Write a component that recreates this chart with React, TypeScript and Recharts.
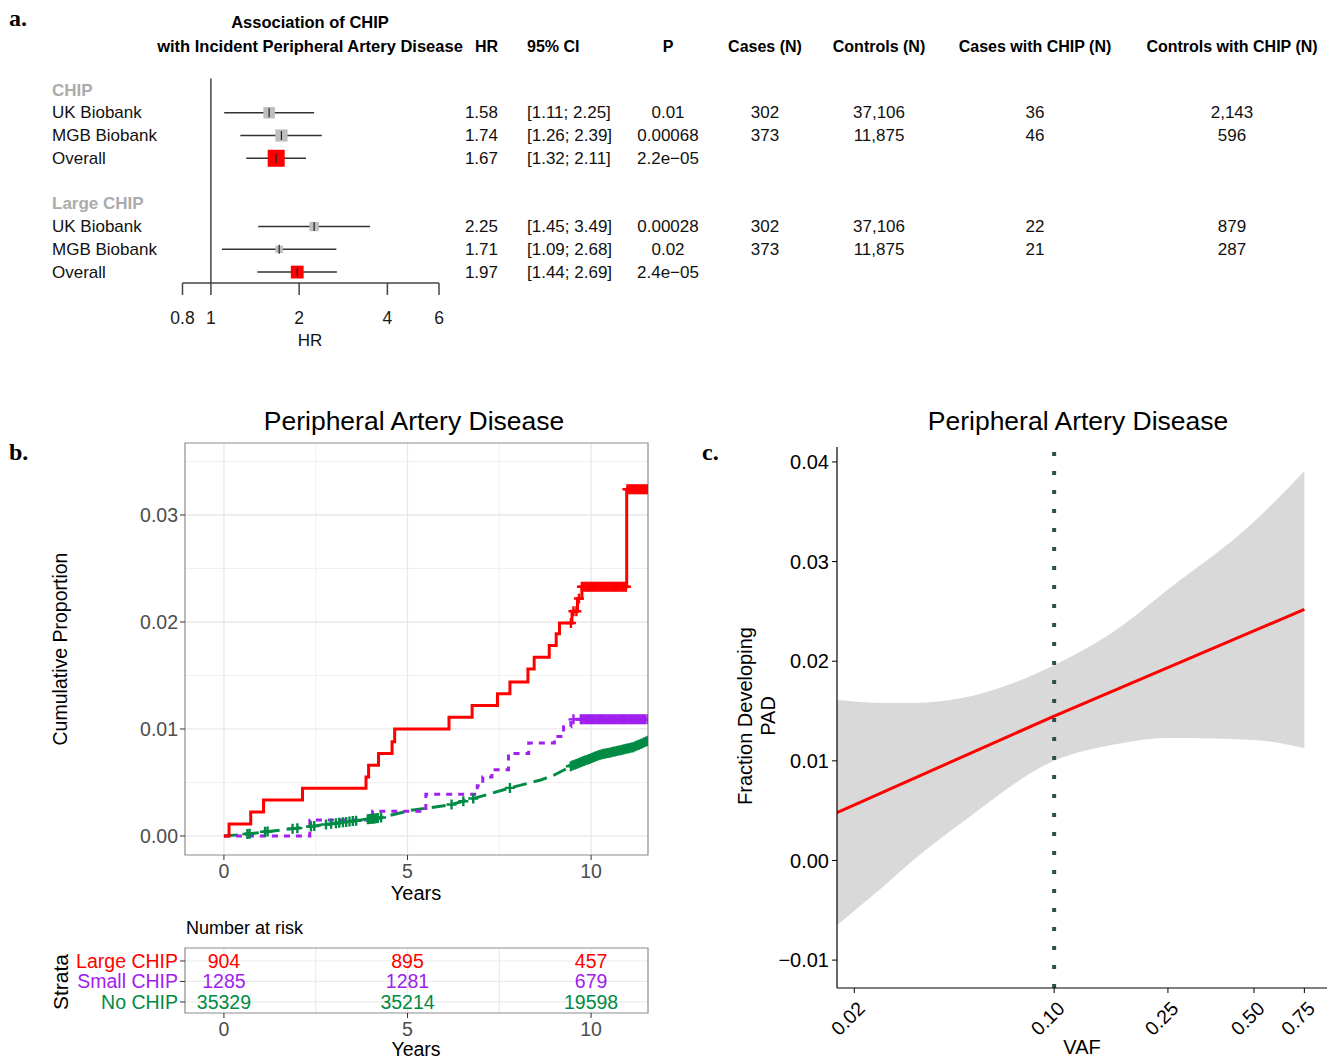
import React from 'react';
import {
  ComposedChart, Line, Area, Scatter, ErrorBar, XAxis, YAxis,
  CartesianGrid, ReferenceLine, ReferenceArea,
} from 'recharts';

const FONT = '"Liberation Sans", Arial, Helvetica, sans-serif';
const SERIF = '"Liberation Serif", "Times New Roman", serif';

const RED = '#FF0000';
const PURPLE = '#A020F0';
const GREEN = '#008B45';
const BOX_GREY = '#BEBEBE';
const HEAD_GREY = '#ABABAB';

// ---------- a. forest plot ----------
const groupNames = ['CHIP', 'Large CHIP'];
const groupRows = [1, 6];
const studyNames = ['UK Biobank', 'MGB Biobank', 'Overall', 'UK Biobank', 'MGB Biobank', 'Overall'];
const studyRows = [2, 3, 4, 7, 8, 9];
const hr = [1.58, 1.74, 1.67, 2.25, 1.71, 1.97];
const ciLow = [1.11, 1.26, 1.32, 1.45, 1.09, 1.44];
const ciHigh = [2.25, 2.39, 2.11, 3.49, 2.68, 2.69];
const pValues = ['0.01', '0.00068', '2.2e\u221205', '0.00028', '0.02', '2.4e\u221205'];
const casesN = ['302', '373', '', '302', '373', ''];
const controlsN = ['37,106', '11,875', '', '37,106', '11,875', ''];
const casesChipN = ['36', '46', '', '22', '21', ''];
const controlsChipN = ['2,143', '596', '', '879', '287', ''];
const weights = [46, 52, 100, 30, 19, 57];
const hrTicks = [0.8, 1, 2, 4, 6];

// ---------- b. cumulative incidence ----------
const largeT = [0, 0.14, 0.73, 1.08, 2.14, 3.87, 3.94, 4.21, 4.58, 4.65, 6.13, 6.76, 7.45, 7.79, 8.28, 8.45, 8.86, 9.05, 9.14, 9.48, 9.63, 9.75, 10.97, 11.55];
const largeV = [0, 0.00112, 0.00224, 0.00336, 0.00445, 0.0055, 0.0066, 0.0077, 0.0088, 0.0100, 0.0111, 0.0122, 0.0133, 0.0144, 0.0156, 0.0167, 0.0178, 0.0189, 0.0199, 0.0210, 0.0222, 0.0233, 0.0324, 0.0324];
const smallT = [0, 2.34, 4.05, 5.5, 6.9, 7.05, 7.3, 7.75, 8.3, 9.0, 9.25, 9.45, 11.55];
const smallV = [0, 0.0015, 0.0023, 0.0039, 0.0047, 0.0055, 0.0062, 0.0077, 0.0087, 0.0093, 0.0102, 0.0109, 0.0109];
const noT = [0, 0.6, 1.15, 2.05, 3.3, 4.25, 5.1, 6.15, 7.0, 7.8, 8.6, 9.0, 9.5, 10.25, 10.65, 11.15, 11.55];
const noV = [0, 0.00016, 0.0004, 0.00075, 0.0013, 0.0017, 0.0024, 0.0029, 0.0037, 0.0045, 0.0052, 0.0057, 0.0066, 0.0076, 0.0079, 0.0083, 0.0089];

// censoring times
const largeCens = [9.45, 9.52, 9.6, 9.67, 9.75, 9.8, 9.85, 9.9, 9.95, 10.0, 10.05, 10.1, 10.15, 10.2, 10.25, 10.3, 10.35, 10.4, 10.45, 10.5, 10.55, 10.6, 10.65, 10.7, 10.75, 10.8, 10.85, 10.9, 10.95, 10.99, 11.04, 11.09, 11.14, 11.19, 11.24, 11.29, 11.34, 11.39, 11.44, 11.49, 11.54];
const smallCens = [9.52, 9.72, 9.77, 9.82, 9.87, 9.92, 9.97, 10.02, 10.07, 10.12, 10.17, 10.22, 10.27, 10.32, 10.37, 10.42, 10.47, 10.52, 10.57, 10.62, 10.67, 10.72, 10.77, 10.82, 10.87, 10.92, 10.97, 11.02, 11.07, 11.12, 11.17, 11.22, 11.27, 11.32, 11.37, 11.42, 11.47, 11.54];
const noCens = [0.64, 0.7, 1.12, 1.19, 1.87, 2.0, 2.37, 2.46, 2.78, 2.92, 3.05, 3.14, 3.24, 3.33, 3.42, 3.51, 3.6, 3.92, 3.97, 4.01, 4.06, 4.1, 4.15, 4.19, 4.28, 6.2, 6.52, 6.79, 7.79, 9.45, 9.5, 9.55, 9.6, 9.65, 9.7, 9.75, 9.8, 9.85, 9.9, 9.95, 10.0, 10.05, 10.1, 10.15, 10.2, 10.25, 10.3, 10.35, 10.4, 10.45, 10.5, 10.55, 10.6, 10.65, 10.7, 10.75, 10.8, 10.85, 10.9, 10.95, 11.0, 11.05, 11.1, 11.15, 11.2, 11.25, 11.3, 11.35, 11.4, 11.45, 11.5, 11.55];

const strata = ['Large CHIP', 'Small CHIP', 'No CHIP'];
const strataColors = [RED, PURPLE, GREEN];
const riskTimes = [0, 5, 10];
const riskLarge = [904, 895, 457];
const riskSmall = [1285, 1281, 679];
const riskNo = [35329, 35214, 19598];

// ---------- c. VAF ----------
const bandVaf = [0.0174, 0.0255, 0.0327, 0.0476, 0.1, 0.166, 0.25, 0.5, 0.75];
const bandLow = [-0.0065, -0.0025, 0.0002, 0.0038, 0.0100, 0.0117, 0.0123, 0.0121, 0.0113];
const bandHigh = [0.0161, 0.0158, 0.0158, 0.0163, 0.0196, 0.0232, 0.0272, 0.0340, 0.0391];
const fitVaf = [0.0174, 0.1, 0.75];
const fitValue = [0.0048, 0.0145, 0.0252];
const vafTicks = [0.02, 0.1, 0.25, 0.5, 0.75];
const fracTicks = [-0.01, 0, 0.01, 0.02, 0.03, 0.04];

// helpers
const stepAt = (ts: number[], vs: number[], t: number) => {
  let v = vs[0];
  ts.forEach((x, i) => { if (x <= t) v = vs[i]; });
  return v;
};
const lineAt = (ts: number[], vs: number[], t: number) => {
  for (let i = 0; i < ts.length - 1; i++) {
    if (t >= ts[i] && t <= ts[i + 1]) {
      return vs[i] + ((vs[i + 1] - vs[i]) * (t - ts[i])) / (ts[i + 1] - ts[i]);
    }
  }
  return vs[vs.length - 1];
};
const rowY = (r: number) => 90 + (r - 1) * 22.75;

const forestData = hr.map((h, i) => ({
  hr: h,
  row: studyRows[i],
  w: weights[i],
  overall: studyNames[i] === 'Overall',
  err: [h - ciLow[i], ciHigh[i] - h],
}));

const largeData = largeT.map((t, i) => ({ t, v: largeV[i] }));
const smallData = smallT.map((t, i) => ({ t, v: smallV[i] }));
const noData = noT.map((t, i) => ({ t, v: noV[i] }));
const largeCensData = largeCens.map((t) => ({ t, v: stepAt(largeT, largeV, t) }));
const smallCensData = smallCens.map((t) => ({ t, v: stepAt(smallT, smallV, t) }));
const noCensData = noCens.map((t) => ({ t, v: lineAt(noT, noV, t) }));

const riskData = riskTimes.flatMap((t, j) => [
  { t, row: 1, n: riskLarge[j], s: 0 },
  { t, row: 2, n: riskSmall[j], s: 1 },
  { t, row: 3, n: riskNo[j], s: 2 },
]);

const bandData = bandVaf.map((x, i) => ({ vaf: x, band: [bandLow[i], bandHigh[i]] }));
const fitData = fitVaf.map((x, i) => ({ vaf: x, fit: fitValue[i] }));

const ForestBox = (props: any) => {
  const { cx, cy, payload } = props;
  const s = Math.sqrt(payload.w) * 1.7;
  return (
    <g>
      <rect x={cx - s / 2} y={cy - s / 2} width={s} height={s} fill={payload.overall ? RED : BOX_GREY} />
      <line x1={cx} x2={cx} y1={cy - 4.5} y2={cy + 4.5} stroke="#222" strokeWidth={1.2} />
    </g>
  );
};

const makeCross = (color: string) => (props: any) => {
  const { cx, cy } = props;
  if (cx == null || cy == null) return <g />;
  return <path d={`M${cx - 5},${cy}H${cx + 5}M${cx},${cy - 5}V${cy + 5}`} stroke={color} strokeWidth={2.4} fill="none" />;
};

const RiskCell = (props: any) => {
  const { cx, cy, payload } = props;
  return (
    <text x={cx} y={cy} textAnchor="middle" dominantBaseline="central" fill={strataColors[payload.s]} fontSize={19.5} fontFamily={FONT}>
      {payload.n}
    </text>
  );
};

const StrataTick = (props: any) => {
  const { x, y, payload } = props;
  const i = payload.value - 1;
  return (
    <text x={x} y={y} textAnchor="end" dominantBaseline="central" fill={strataColors[i]} fontSize={19.5} fontFamily={FONT}>
      {strata[i]}
    </text>
  );
};

const VafTick = (props: any) => {
  const { x, y, payload } = props;
  return (
    <g transform={`translate(${x + 2},${y}) rotate(-45)`}>
      <text x={0} y={0} dy="0.71em" textAnchor="end" fill="#000" fontSize={19.5} fontFamily={FONT}>
        {payload.value.toFixed(2)}
      </text>
    </g>
  );
};

const fmtFrac = (v: number) => v.toFixed(2).replace('-', '\u2212');

const abs = (left: number, top: number): React.CSSProperties => ({ position: 'absolute', left, top });

const tableCols = [
  { x: 498, anchor: 'end', head: 'HR', vals: hr.map((v) => v.toFixed(2)) },
  { x: 527, anchor: 'start', head: '95% CI', vals: ciLow.map((l, i) => `[${l.toFixed(2)}; ${ciHigh[i].toFixed(2)}]`) },
  { x: 668, anchor: 'middle', head: 'P', vals: pValues },
  { x: 765, anchor: 'middle', head: 'Cases (N)', vals: casesN },
  { x: 879, anchor: 'middle', head: 'Controls (N)', vals: controlsN },
  { x: 1035, anchor: 'middle', head: 'Cases with CHIP (N)', vals: casesChipN },
  { x: 1232, anchor: 'middle', head: 'Controls with CHIP (N)', vals: controlsChipN },
];

const App: React.FC = () => {
  return (
    <div style={{ position: 'absolute', left: 0, top: 0, width: 1337, height: 1061, background: '#fff', fontFamily: FONT }}>
      <svg width={1337} height={1061} style={abs(0, 0)} fontFamily={FONT}>
        {/* panel letters */}
        <text x={9} y={26} fontFamily={SERIF} fontWeight="bold" fontSize={24}>a.</text>
        <text x={9} y={460} fontFamily={SERIF} fontWeight="bold" fontSize={24}>b.</text>
        <text x={702} y={460} fontFamily={SERIF} fontWeight="bold" fontSize={24}>c.</text>

        {/* forest header */}
        <text x={310} y={22} textAnchor="middle" dominantBaseline="central" fontWeight="bold" fontSize={16.5}>Association of CHIP</text>
        <text x={310} y={46} textAnchor="middle" dominantBaseline="central" fontWeight="bold" fontSize={16.5}>with Incident Peripheral Artery Disease</text>
        {tableCols.map((c) => (
          <g key={c.head}>
            <text x={c.x} y={46} textAnchor={c.anchor as any} dominantBaseline="central" fontWeight="bold" fontSize={16}>{c.head}</text>
            {c.vals.map((v, i) => (
              <text key={i} x={c.x} y={rowY(studyRows[i])} textAnchor={c.anchor as any} dominantBaseline="central" fontSize={17} fill="#111">{v}</text>
            ))}
          </g>
        ))}
        {groupNames.map((g, i) => (
          <text key={g} x={52} y={rowY(groupRows[i])} dominantBaseline="central" fontWeight="bold" fontSize={17} fill={HEAD_GREY}>{g}</text>
        ))}
        {studyNames.map((s, i) => (
          <text key={i} x={52} y={rowY(studyRows[i])} dominantBaseline="central" fontSize={17} fill="#111">{s}</text>
        ))}
        <text x={310} y={340} textAnchor="middle" dominantBaseline="central" fontSize={17} fill="#111">HR</text>

        {/* panel b texts */}
        <text x={414} y={421} textAnchor="middle" dominantBaseline="central" fontSize={26.5}>Peripheral Artery Disease</text>
        <text transform="translate(60,649) rotate(-90)" textAnchor="middle" dominantBaseline="central" fontSize={19.5}>Cumulative Proportion</text>
        <text x={416} y={893} textAnchor="middle" dominantBaseline="central" fontSize={20}>Years</text>
        <text x={186} y={928} dominantBaseline="central" fontSize={18}>Number at risk</text>
        <text transform="translate(60,982) rotate(-90)" textAnchor="middle" dominantBaseline="central" fontSize={21}>Strata</text>
        <text x={416} y={1049} textAnchor="middle" dominantBaseline="central" fontSize={19.5}>Years</text>

        {/* panel c texts */}
        <text x={1078} y={421} textAnchor="middle" dominantBaseline="central" fontSize={26.5}>Peripheral Artery Disease</text>
        <text transform="translate(745,716) rotate(-90)" textAnchor="middle" dominantBaseline="central" fontSize={20}>Fraction Developing</text>
        <text transform="translate(768,716) rotate(-90)" textAnchor="middle" dominantBaseline="central" fontSize={20}>PAD</text>
        <text x={1082} y={1047} textAnchor="middle" dominantBaseline="central" fontSize={20}>VAF</text>
      </svg>

      {/* a. forest plot */}
      <div style={abs(0, 0)}>
        <ComposedChart width={460} height={360} margin={{ top: 78.6, right: 21, left: 182.5, bottom: 0 }}>
          <XAxis
            dataKey="hr" type="number" scale="log" domain={[0.8, 6]} ticks={hrTicks} interval={0} allowDataOverflow
            height={77} tickSize={12} tickMargin={17}
            axisLine={{ stroke: '#444', strokeWidth: 1.5 }} tickLine={{ stroke: '#444', strokeWidth: 1.5 }}
            tick={{ fill: '#1a1a1a', fontSize: 17.5, fontFamily: FONT }}
          />
          <YAxis dataKey="row" type="number" domain={[0.5, 9.48]} reversed hide allowDataOverflow />
          <ReferenceLine x={1} stroke="#444" strokeWidth={1.5} />
          <Scatter data={forestData} dataKey="row" shape={ForestBox} isAnimationActive={false}>
            <ErrorBar dataKey="err" direction="x" width={0} stroke="#333" strokeWidth={1.5} />
          </Scatter>
        </ComposedChart>
      </div>

      {/* b. cumulative incidence */}
      <div style={abs(40, 430)}>
        <ComposedChart width={620} height={470} margin={{ top: 13, right: 12, left: 0, bottom: 0 }}>
          <CartesianGrid horizontalValues={[0.005, 0.015, 0.025, 0.035]} verticalValues={[2.5, 7.5]} stroke="#F0F0F0" strokeWidth={1} />
          <CartesianGrid horizontalValues={[0, 0.01, 0.02, 0.03]} verticalValues={[0, 5, 10]} stroke="#E8E8E8" strokeWidth={1.3} />
          <XAxis
            dataKey="t" type="number" domain={[-1.06, 11.55]} ticks={[0, 5, 10]} interval={0} allowDataOverflow
            height={45} tickSize={5} tickMargin={4} axisLine={false} tickLine={{ stroke: '#333' }}
            tick={{ fill: '#4d4d4d', fontSize: 19.5, fontFamily: FONT }}
          />
          <YAxis
            dataKey="v" type="number" domain={[-0.00178, 0.03673]} ticks={[0, 0.01, 0.02, 0.03]} interval={0} allowDataOverflow
            width={145} tickSize={5} tickMargin={2} axisLine={false} tickLine={{ stroke: '#333' }}
            tick={{ fill: '#4d4d4d', fontSize: 19.5, fontFamily: FONT }} tickFormatter={(v: number) => v.toFixed(2)}
          />
          <ReferenceArea x1={-1.06} x2={11.55} y1={-0.00178} y2={0.03673} fill="none" stroke="#8C8C8C" strokeWidth={1.2} />
          <Line data={noData} dataKey="v" type="linear" stroke={GREEN} strokeWidth={3} strokeDasharray="14 7" dot={false} isAnimationActive={false} />
          <Line data={smallData} dataKey="v" type="stepAfter" stroke={PURPLE} strokeWidth={3} strokeDasharray="6 6" dot={false} isAnimationActive={false} />
          <Line data={largeData} dataKey="v" type="stepAfter" stroke={RED} strokeWidth={3} dot={false} isAnimationActive={false} />
          <Scatter data={noCensData} dataKey="v" shape={makeCross(GREEN)} isAnimationActive={false} />
          <Scatter data={smallCensData} dataKey="v" shape={makeCross(PURPLE)} isAnimationActive={false} />
          <Scatter data={largeCensData} dataKey="v" shape={makeCross(RED)} isAnimationActive={false} />
        </ComposedChart>
      </div>

      {/* b. number at risk */}
      <div style={abs(40, 935)}>
        <ComposedChart width={620} height={126} margin={{ top: 13, right: 12, left: 0, bottom: 0 }}>
          <CartesianGrid horizontalValues={[1, 2, 3]} verticalValues={[0, 2.5, 5, 7.5, 10]} stroke="#EBEBEB" strokeWidth={1.2} />
          <XAxis
            dataKey="t" type="number" domain={[-1.06, 11.55]} ticks={[0, 5, 10]} interval={0} allowDataOverflow
            height={48} tickSize={5} tickMargin={4} axisLine={false} tickLine={{ stroke: '#333' }}
            tick={{ fill: '#4d4d4d', fontSize: 19.5, fontFamily: FONT }}
          />
          <YAxis
            dataKey="row" type="number" domain={[0.366, 3.54]} reversed ticks={[1, 2, 3]} interval={0} allowDataOverflow
            width={145} tickSize={5} tickMargin={2} axisLine={false} tickLine={{ stroke: '#333' }} tick={<StrataTick />}
          />
          <ReferenceArea x1={-1.06} x2={11.55} y1={0.366} y2={3.54} fill="none" stroke="#8C8C8C" strokeWidth={1.2} />
          <Scatter data={riskData} dataKey="row" shape={RiskCell} isAnimationActive={false} />
        </ComposedChart>
      </div>

      {/* c. VAF */}
      <div style={abs(730, 440)}>
        <ComposedChart width={607} height={621} data={bandData} margin={{ top: 7, right: 10, left: 0, bottom: 0 }}>
          <XAxis
            dataKey="vaf" type="number" scale="log" domain={[0.0174, 0.9]} ticks={vafTicks} interval={0} allowDataOverflow
            height={73} tickSize={5} tickMargin={7}
            axisLine={{ stroke: '#000', strokeWidth: 1.2 }} tickLine={{ stroke: '#000' }} tick={<VafTick />}
          />
          <YAxis
            type="number" domain={[-0.0128, 0.0415]} ticks={fracTicks} interval={0} allowDataOverflow
            width={107} tickSize={5} tickMargin={3}
            axisLine={{ stroke: '#000', strokeWidth: 1.2 }} tickLine={{ stroke: '#000' }}
            tick={{ fill: '#000', fontSize: 20, fontFamily: FONT }} tickFormatter={fmtFrac}
          />
          <Area dataKey="band" type="monotone" fill="#D9D9D9" fillOpacity={1} stroke="none" isAnimationActive={false} />
          <ReferenceLine x={0.1} stroke="#2F4F4F" strokeWidth={4} strokeDasharray="4 15" />
          <Line data={fitData} dataKey="fit" type="linear" stroke={RED} strokeWidth={3} dot={false} isAnimationActive={false} />
        </ComposedChart>
      </div>
    </div>
  );
};

export default App;
